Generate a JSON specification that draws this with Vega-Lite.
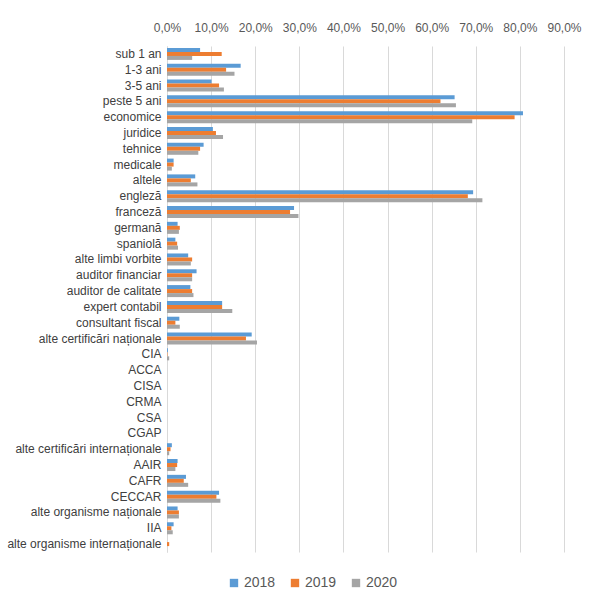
{
  "$schema": "https://vega.github.io/schema/vega-lite/v6.json",
  "autosize": {"type": "none"},
  "width": 397,
  "height": 506,
  "padding": {"left": 167, "top": 46, "right": 34, "bottom": 38},
  "background": "white",
  "data": {
    "values": [
      {"cat": "sub 1 an", "year": "2018", "v": 7.5}, {"cat": "sub 1 an", "year": "2019", "v": 12.4}, {"cat": "sub 1 an", "year": "2020", "v": 5.7},
      {"cat": "1-3 ani", "year": "2018", "v": 16.7}, {"cat": "1-3 ani", "year": "2019", "v": 13.4}, {"cat": "1-3 ani", "year": "2020", "v": 15.3},
      {"cat": "3-5 ani", "year": "2018", "v": 10.1}, {"cat": "3-5 ani", "year": "2019", "v": 11.8}, {"cat": "3-5 ani", "year": "2020", "v": 12.9},
      {"cat": "peste 5 ani", "year": "2018", "v": 65.2}, {"cat": "peste 5 ani", "year": "2019", "v": 62.0}, {"cat": "peste 5 ani", "year": "2020", "v": 65.5},
      {"cat": "economice", "year": "2018", "v": 80.7}, {"cat": "economice", "year": "2019", "v": 78.8}, {"cat": "economice", "year": "2020", "v": 69.2},
      {"cat": "juridice", "year": "2018", "v": 10.4}, {"cat": "juridice", "year": "2019", "v": 11.1}, {"cat": "juridice", "year": "2020", "v": 12.7},
      {"cat": "tehnice", "year": "2018", "v": 8.3}, {"cat": "tehnice", "year": "2019", "v": 7.5}, {"cat": "tehnice", "year": "2020", "v": 7.1},
      {"cat": "medicale", "year": "2018", "v": 1.5}, {"cat": "medicale", "year": "2019", "v": 1.5}, {"cat": "medicale", "year": "2020", "v": 1.1},
      {"cat": "altele", "year": "2018", "v": 6.4}, {"cat": "altele", "year": "2019", "v": 5.4}, {"cat": "altele", "year": "2020", "v": 6.9},
      {"cat": "engleză", "year": "2018", "v": 69.4}, {"cat": "engleză", "year": "2019", "v": 68.2}, {"cat": "engleză", "year": "2020", "v": 71.5},
      {"cat": "franceză", "year": "2018", "v": 28.8}, {"cat": "franceză", "year": "2019", "v": 27.9}, {"cat": "franceză", "year": "2020", "v": 29.8},
      {"cat": "germană", "year": "2018", "v": 2.4}, {"cat": "germană", "year": "2019", "v": 2.9}, {"cat": "germană", "year": "2020", "v": 2.7},
      {"cat": "spaniolă", "year": "2018", "v": 1.9}, {"cat": "spaniolă", "year": "2019", "v": 2.3}, {"cat": "spaniolă", "year": "2020", "v": 2.5},
      {"cat": "alte limbi vorbite", "year": "2018", "v": 4.8}, {"cat": "alte limbi vorbite", "year": "2019", "v": 5.7}, {"cat": "alte limbi vorbite", "year": "2020", "v": 5.4},
      {"cat": "auditor financiar", "year": "2018", "v": 6.7}, {"cat": "auditor financiar", "year": "2019", "v": 5.7}, {"cat": "auditor financiar", "year": "2020", "v": 5.7},
      {"cat": "auditor de calitate", "year": "2018", "v": 5.3}, {"cat": "auditor de calitate", "year": "2019", "v": 5.7}, {"cat": "auditor de calitate", "year": "2020", "v": 6.0},
      {"cat": "expert contabil", "year": "2018", "v": 12.5}, {"cat": "expert contabil", "year": "2019", "v": 12.5}, {"cat": "expert contabil", "year": "2020", "v": 14.8},
      {"cat": "consultant fiscal", "year": "2018", "v": 2.8}, {"cat": "consultant fiscal", "year": "2019", "v": 1.9}, {"cat": "consultant fiscal", "year": "2020", "v": 2.9},
      {"cat": "alte certificări naționale", "year": "2018", "v": 19.2}, {"cat": "alte certificări naționale", "year": "2019", "v": 17.9}, {"cat": "alte certificări naționale", "year": "2020", "v": 20.4},
      {"cat": "CIA", "year": "2018", "v": 0.2}, {"cat": "CIA", "year": "2019", "v": 0.1}, {"cat": "CIA", "year": "2020", "v": 0.5},
      {"cat": "ACCA", "year": "2018", "v": 0}, {"cat": "ACCA", "year": "2019", "v": 0}, {"cat": "ACCA", "year": "2020", "v": 0},
      {"cat": "CISA", "year": "2018", "v": 0}, {"cat": "CISA", "year": "2019", "v": 0}, {"cat": "CISA", "year": "2020", "v": 0},
      {"cat": "CRMA", "year": "2018", "v": 0}, {"cat": "CRMA", "year": "2019", "v": 0}, {"cat": "CRMA", "year": "2020", "v": 0},
      {"cat": "CSA", "year": "2018", "v": 0}, {"cat": "CSA", "year": "2019", "v": 0}, {"cat": "CSA", "year": "2020", "v": 0},
      {"cat": "CGAP", "year": "2018", "v": 0}, {"cat": "CGAP", "year": "2019", "v": 0}, {"cat": "CGAP", "year": "2020", "v": 0},
      {"cat": "alte certificări internaționale", "year": "2018", "v": 1.1}, {"cat": "alte certificări internaționale", "year": "2019", "v": 0.8}, {"cat": "alte certificări internaționale", "year": "2020", "v": 0.5},
      {"cat": "AAIR", "year": "2018", "v": 2.4}, {"cat": "AAIR", "year": "2019", "v": 2.3}, {"cat": "AAIR", "year": "2020", "v": 1.9},
      {"cat": "CAFR", "year": "2018", "v": 4.3}, {"cat": "CAFR", "year": "2019", "v": 3.8}, {"cat": "CAFR", "year": "2020", "v": 4.8},
      {"cat": "CECCAR", "year": "2018", "v": 11.8}, {"cat": "CECCAR", "year": "2019", "v": 11.2}, {"cat": "CECCAR", "year": "2020", "v": 12.1},
      {"cat": "alte organisme naționale", "year": "2018", "v": 2.4}, {"cat": "alte organisme naționale", "year": "2019", "v": 2.7}, {"cat": "alte organisme naționale", "year": "2020", "v": 2.7},
      {"cat": "IIA", "year": "2018", "v": 1.5}, {"cat": "IIA", "year": "2019", "v": 1.0}, {"cat": "IIA", "year": "2020", "v": 1.3},
      {"cat": "alte organisme internaționale", "year": "2018", "v": 0}, {"cat": "alte organisme internaționale", "year": "2019", "v": 0.5}, {"cat": "alte organisme internaționale", "year": "2020", "v": 0}
    ]
  },
  "mark": {"type": "bar"},
  "encoding": {
    "y": {
      "field": "cat", "type": "nominal", "sort": null, "title": null,
      "scale": {"paddingInner": 0.24, "paddingOuter": 0.12},
      "axis": {"ticks": false, "domain": true, "domainColor": "#d9d9d9", "labelPadding": 6, "labelFont": "Liberation Sans", "labelFontSize": 12, "labelColor": "#404040", "labelLimit": 200}
    },
    "yOffset": {"field": "year", "type": "nominal", "sort": ["2018", "2019", "2020"], "scale": {"paddingInner": 0, "paddingOuter": 0}},
    "x": {
      "field": "v", "type": "quantitative", "title": null,
      "scale": {"domain": [0, 90], "nice": false},
      "axis": {"orient": "top", "values": [0, 10, 20, 30, 40, 50, 60, 70, 80, 90], "ticks": false, "domain": false, "grid": true, "gridColor": "#d9d9d9", "labelOverlap": false, "labelFlush": false, "labelBound": false, "labelPadding": 12, "labelFont": "Liberation Sans", "labelFontSize": 12, "labelColor": "#595959",
        "labelExpr": "replace(format(datum.value, '.1f'), '.', ',') + '%'"}
    },
    "color": {
      "field": "year", "type": "nominal", "title": null,
      "scale": {"domain": ["2018", "2019", "2020"], "range": ["#5b9bd5", "#ed7d31", "#a5a5a5"]},
      "legend": {"orient": "none", "direction": "horizontal", "legendX": 60, "legendY": 530, "symbolType": "square", "symbolSize": 70, "symbolStrokeWidth": 0, "labelFont": "Liberation Sans", "labelFontSize": 14, "labelColor": "#595959", "columnPadding": 12, "labelOffset": 3}
    }
  },
  "config": {"view": {"stroke": null}}
}
